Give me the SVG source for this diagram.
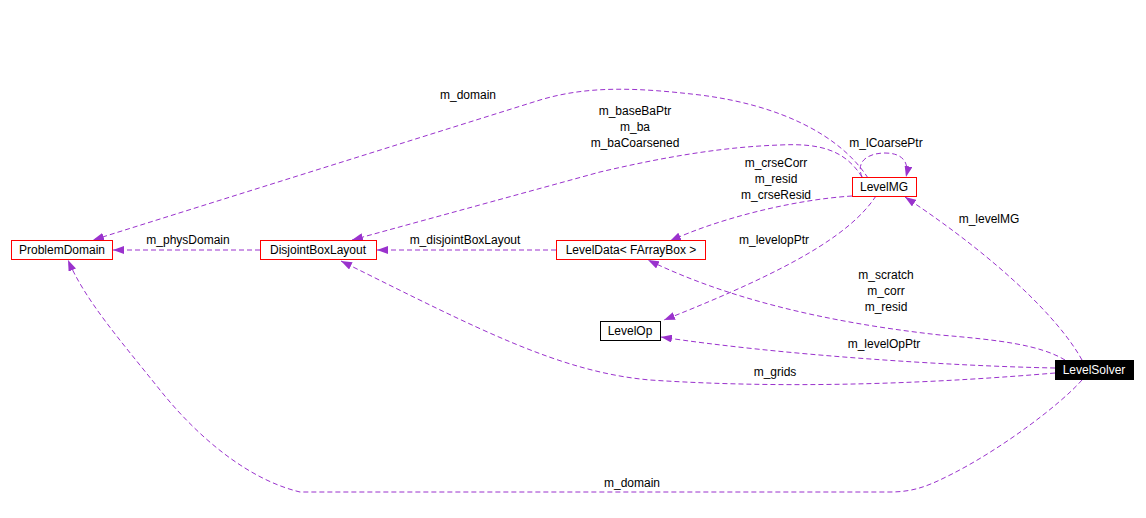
<svg xmlns="http://www.w3.org/2000/svg" width="1146" height="518" viewBox="0 0 1146 518">
<style>
.node rect{fill:#ffffff;stroke:#ff0000;stroke-width:1}
.node text,.lbl{font-family:"Liberation Sans",Arial,sans-serif;font-size:12px;fill:#000000;text-anchor:middle}
.edge{fill:none;stroke:#9a32cd;stroke-width:1;stroke-dasharray:5,3;marker-end:url(#arr)}
</style>
<defs>
<marker id="arr" viewBox="0 0 11 8" refX="11" refY="4" markerWidth="11" markerHeight="8" markerUnits="userSpaceOnUse" orient="auto">
<path d="M0,0 L11,4 L0,8 z" fill="#9a32cd" stroke="none"/>
</marker>
</defs>
<rect width="1146" height="518" fill="#ffffff"/>
<g id="connectors">
<path class="edge" d="M260,250 L113,250"/>
<text class="lbl" x="188" y="244">m_physDomain</text>
<path class="edge" d="M556,250 L377,250"/>
<text class="lbl" x="465" y="244">m_disjointBoxLayout</text>
<path class="edge" d="M868,178 C840,135 780,105 700,95 C640,88 590,85 540,100 L93,240"/>
<text class="lbl" x="468" y="99">m_domain</text>
<path class="edge" d="M862,177 C845,150 820,143 780,145 C720,147 660,158 600,172 L352,240"/>
<text class="lbl" x="635" y="115">m_baseBaPtr</text>
<text class="lbl" x="635" y="131">m_ba</text>
<text class="lbl" x="635" y="147">m_baCoarsened</text>
<path class="edge" d="M862,177 C855,160 870,153 885,153 C900,153 910,160 906,177"/>
<text class="lbl" x="886" y="147">m_lCoarsePtr</text>
<path class="edge" d="M852,196 C790,200 715,220 670,241"/>
<text class="lbl" x="776" y="167">m_crseCorr</text>
<text class="lbl" x="776" y="183">m_resid</text>
<text class="lbl" x="776" y="199">m_crseResid</text>
<path class="edge" d="M876,196 C850,235 790,270 664,320"/>
<text class="lbl" x="774" y="244">m_levelopPtr</text>
<path class="edge" d="M1082,360 C1060,320 1000,260 905,197"/>
<text class="lbl" x="989" y="223">m_levelMG</text>
<path class="edge" d="M1065,360 C1040,345 1000,340 940,335 C850,325 740,305 648,260"/>
<text class="lbl" x="886" y="279">m_scratch</text>
<text class="lbl" x="886" y="295">m_corr</text>
<text class="lbl" x="886" y="311">m_resid</text>
<path class="edge" d="M1055,368 C950,366 780,355 661,337"/>
<text class="lbl" x="884" y="348">m_levelOpPtr</text>
<path class="edge" d="M1055,373 C950,382 800,390 650,380 C560,372 480,330 341,261"/>
<text class="lbl" x="775" y="376">m_grids</text>
<path class="edge" d="M1082,380 C1060,405 1000,450 950,475 C930,485 915,492 890,492 L300,492 C250,480 200,440 160,390 C120,340 85,300 68,260"/>
<text class="lbl" x="632" y="487">m_domain</text>
</g>
<g id="ProblemDomain" class="node">
<rect x="11.5" y="240.5" width="101" height="19"/>
<text x="62" y="254">ProblemDomain</text>
</g>
<g id="DisjointBoxLayout" class="node">
<rect x="260.5" y="240.5" width="116" height="19"/>
<text x="318" y="254">DisjointBoxLayout</text>
</g>
<g id="LevelData" class="node">
<rect x="556.5" y="240.5" width="149" height="19"/>
<text x="631" y="254">LevelData&lt; FArrayBox &gt;</text>
</g>
<g id="LevelMG" class="node">
<rect x="852.5" y="177.5" width="64" height="19"/>
<text x="884" y="191">LevelMG</text>
</g>
<g id="LevelOp" class="node">
<rect x="600.5" y="321.5" width="60" height="19" style="stroke:#000000"/>
<text x="630" y="335">LevelOp</text>
</g>
<g id="LevelSolver" class="node">
<rect x="1055.5" y="360.5" width="78" height="19" style="fill:#000000;stroke:#000000"/>
<text x="1094" y="374" style="fill:#ffffff">LevelSolver</text>
</g>
</svg>
